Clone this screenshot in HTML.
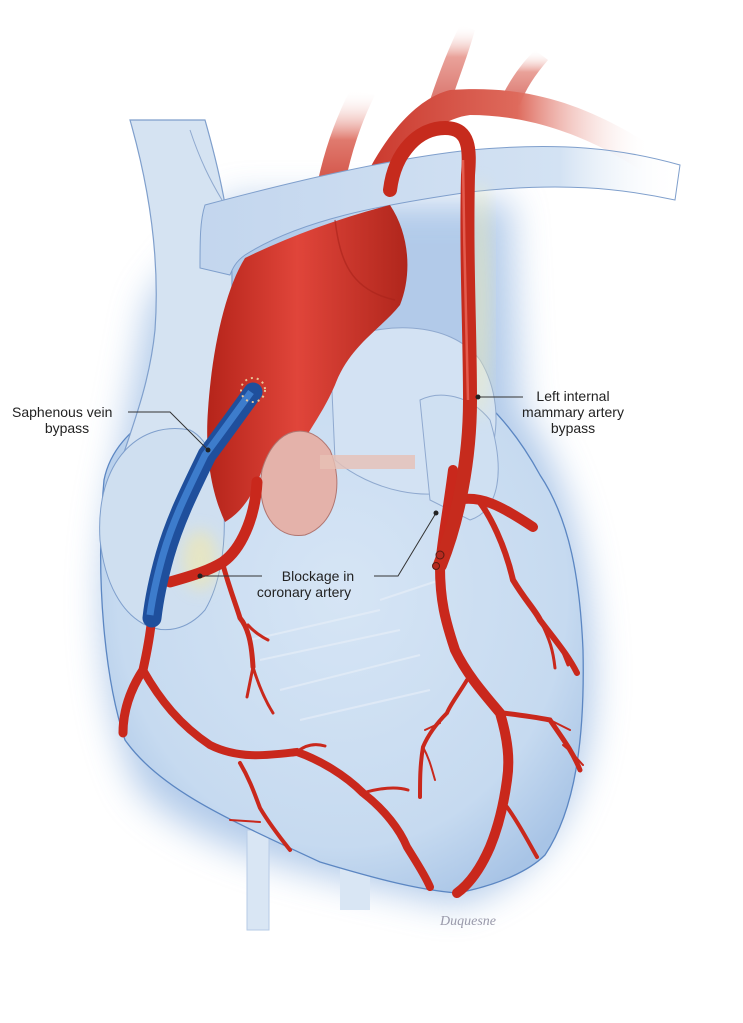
<!DOCTYPE html>
<html><head><meta charset="utf-8"><style>
html,body{margin:0;padding:0;background:#fff;}
svg{display:block}
text{font-family:"Liberation Sans",Arial,sans-serif;font-size:14px;fill:#222}
</style></head><body>
<svg width="743" height="1023" viewBox="0 0 743 1023" xmlns="http://www.w3.org/2000/svg">
<defs>
<filter id="b20" x="-30%" y="-30%" width="160%" height="160%"><feGaussianBlur stdDeviation="18"/></filter>
<filter id="b8" x="-30%" y="-30%" width="160%" height="160%"><feGaussianBlur stdDeviation="8"/></filter>
<radialGradient id="hg" cx="50%" cy="45%" r="62%"><stop offset="0" stop-color="#d6e5f5"/><stop offset="0.75" stop-color="#c6daf0"/><stop offset="1" stop-color="#a8c4e6"/></radialGradient>
<linearGradient id="ag" x1="0" x2="1"><stop offset="0" stop-color="#b5241a"/><stop offset="0.45" stop-color="#e0453a"/><stop offset="1" stop-color="#b0261c"/></linearGradient>
<linearGradient id="fadeR" x1="0" x2="1"><stop offset="0" stop-color="#c3d6ee"/><stop offset="0.75" stop-color="#d3e2f3"/><stop offset="1" stop-color="#fff" stop-opacity="0"/></linearGradient>
<linearGradient id="fadeUp" x1="0" y1="1" x2="0" y2="0"><stop offset="0" stop-color="#c8352a"/><stop offset="0.6" stop-color="#e07a6e"/><stop offset="1" stop-color="#fff" stop-opacity="0"/></linearGradient>
<linearGradient id="arch" x1="0" x2="1"><stop offset="0" stop-color="#c9352a"/><stop offset="0.55" stop-color="#de6a5c"/><stop offset="1" stop-color="#fff" stop-opacity="0"/></linearGradient>
</defs>
<path d="M120 460 C95 560 95 700 140 790 C210 860 350 880 455 905 C550 880 600 780 592 650 C588 560 565 470 520 410 L510 200 L230 200 L150 300 Z" fill="#7fa8dc" filter="url(#b20)" opacity="0.6"/>
<rect x="247" y="830" width="22" height="100" fill="#d9e6f4" stroke="#b6cbe6" stroke-width="1"/>
<rect x="340" y="850" width="30" height="60" fill="#d9e6f4"/>
<path d="M104 480 C95 580 105 680 125 740 C160 790 230 820 320 862 C380 880 420 890 457 893 C500 885 530 870 545 855 C575 810 585 740 583 650 C580 580 570 520 540 475 C510 420 470 380 420 360 C340 330 230 360 160 410 C130 430 110 450 104 480 Z" fill="url(#hg)" stroke="#5b86c2" stroke-width="1.3"/>
<g stroke="#e6eef8" stroke-width="2" opacity="0.7" fill="none">
<path d="M250 640 L380 610"/><path d="M260 660 L400 630"/><path d="M280 690 L420 655"/><path d="M300 720 L430 690"/><path d="M380 600 L440 580"/>
</g>
<path d="M130 120 C150 190 160 260 155 330 C150 380 135 420 118 470 L200 490 C222 420 232 350 232 280 C232 230 222 180 205 120 Z" fill="#d5e3f2" stroke="#7f9fcc" stroke-width="1.2"/>
<path d="M190 130 C200 160 210 180 222 200" stroke="#8fa9cf" stroke-width="1" fill="none"/>
<path d="M100 540 C95 460 140 420 190 430 C230 450 235 560 205 610 C170 650 110 630 100 540 Z" fill="#cfdff0" stroke="#7f9fcc" stroke-width="1"/>
<path d="M330 345 C380 320 450 320 480 360 C505 400 500 460 470 485 C430 505 370 490 335 460 Z" fill="#d3e2f3" stroke="#8fa9cf" stroke-width="1"/>
<path d="M420 400 C440 390 470 395 490 420 C505 470 500 510 470 520 L430 500 Z" fill="#cfe0f2" stroke="#8fa9cf" stroke-width="1"/>
<path d="M312 215 C318 170 330 130 350 90 L375 95 C355 135 345 175 340 215 Z" fill="url(#fadeUp)"/>
<path d="M430 100 C440 70 450 45 460 25 L475 30 C468 55 458 80 450 105 Z" fill="url(#fadeUp)" opacity="0.7"/>
<path d="M500 100 C510 80 520 65 535 50 L548 60 C535 75 525 90 520 105 Z" fill="url(#fadeUp)" opacity="0.7"/>
<path d="M355 200 C375 150 410 100 450 90 C520 85 580 100 650 145 L640 170 C580 130 520 115 470 115 C430 120 400 160 385 205 Z" fill="url(#arch)"/>
<path d="M205 205 C280 185 380 160 470 150 C560 142 620 148 680 165 L675 200 C620 188 560 182 470 192 C380 205 300 220 245 255 C235 262 232 270 230 275 L200 268 C200 240 200 220 205 205 Z" fill="url(#fadeR)" stroke="#7f9fcc" stroke-width="1"/>
<path d="M245 258 C290 236 340 218 390 205 C410 235 412 275 400 305 C380 330 350 345 335 385 C320 420 300 440 290 470 L262 470 C255 490 245 510 225 522 C210 490 205 450 208 410 C212 350 225 290 245 258 Z" fill="url(#ag)"/>
<path d="M335 220 C340 260 350 290 395 300" stroke="#a8231a" stroke-width="1.5" fill="none" opacity="0.6"/>
<path d="M262 470 C275 425 310 420 330 450 C345 485 335 525 305 535 C275 540 255 510 262 470 Z" fill="#e4b2aa" stroke="#b07570" stroke-width="1"/>
<rect x="320" y="455" width="95" height="14" fill="#e7c0b5" opacity="0.8"/>
<ellipse cx="200" cy="560" rx="18" ry="30" fill="#f4e9a8" opacity="0.6" filter="url(#b8)"/>
<ellipse cx="480" cy="300" rx="10" ry="120" fill="#f6f0b0" opacity="0.5" filter="url(#b8)"/>
<g stroke="#c9281c" fill="none" stroke-linecap="round">
<path d="M257 482 C255 520 240 550 223 562 C210 570 195 575 170 582" stroke-width="11"/>
<path d="M223 565 C230 590 236 605 240 618 C250 630 252 650 253 667" stroke-width="5"/>
<path d="M253 667 L247 697 M253 667 C260 690 268 705 273 713 M248 625 C255 633 262 637 268 640" stroke-width="3"/>
<path d="M152 615 C150 640 145 660 143 670 C130 690 123 710 123 733" stroke-width="9"/>
<path d="M143 670 C160 700 180 725 210 745 C240 760 270 755 297 752 C320 760 345 775 363 793 C385 810 400 830 407 847 C415 860 425 875 430 887" stroke-width="8"/>
<path d="M240 763 C250 780 255 795 260 808 C270 825 282 840 290 850" stroke-width="4"/>
<path d="M297 752 C305 745 315 743 325 746" stroke-width="3"/>
<path d="M363 793 C380 788 395 786 408 790" stroke-width="3"/>
<path d="M230 820 L260 822" stroke-width="2"/>
<path d="M453 470 C448 510 442 540 440 567 C440 600 445 620 455 650 C467 675 485 695 500 713 C508 740 510 760 507 780 C503 810 497 830 490 847 C480 870 468 885 457 893" stroke-width="10"/>
<path d="M467 680 C458 695 450 705 447 713 C435 725 428 735 423 747 C420 765 420 780 420 797" stroke-width="4"/>
<path d="M423 747 C430 760 432 770 435 780 M440 723 L425 730" stroke-width="2"/>
<path d="M503 713 C520 715 540 718 550 720 C560 735 572 750 580 770" stroke-width="5"/>
<path d="M550 720 L570 730 M563 745 C575 755 578 760 583 765" stroke-width="2"/>
<path d="M507 807 C520 825 530 845 537 857" stroke-width="4"/>
<path d="M457 500 C480 495 500 505 533 527" stroke-width="10"/>
<path d="M478 500 C490 515 505 545 513 580 C525 600 535 610 540 620 C555 640 568 655 577 673" stroke-width="6"/>
<path d="M540 620 C550 640 553 650 555 668 M560 645 L568 665" stroke-width="3"/>
</g>
<path d="M390 190 C395 150 420 128 445 128 C470 128 470 150 468 175 C466 260 470 330 470 400 C470 460 458 520 440 565" stroke="#c62b1d" stroke-width="14" fill="none" stroke-linecap="round"/>
<path d="M463 160 C464 240 466 330 468 400" stroke="#e35c4e" stroke-width="2.5" fill="none"/>
<circle cx="440" cy="555" r="4" fill="#b52a1f" stroke="#5a1a12" stroke-width="1"/>
<circle cx="436" cy="566" r="3.5" fill="#b52a1f" stroke="#5a1a12" stroke-width="1"/>
<path d="M253 392 C240 410 222 435 207 455 C190 490 175 520 165 555 C158 580 154 600 152 618" stroke="#1f4f9c" stroke-width="19" fill="none" stroke-linecap="round"/>
<path d="M251 392 C238 410 220 435 205 455 C188 490 173 520 163 555 C156 580 152 600 150 615" stroke="#3d7ccc" stroke-width="7" fill="none"/>
<circle cx="253" cy="390" r="12" fill="none" stroke="#e8c79a" stroke-width="2" stroke-dasharray="2 4"/>
<text x="440" y="925" style="font-family:'Liberation Serif',serif;font-style:italic;font-size:14px;fill:#99a">Duquesne</text>
<g stroke="#333" stroke-width="1" fill="none">
<path d="M128 412 L170 412 L208 450"/>
<path d="M478 397 L523 397"/>
<path d="M200 576 L262 576"/>
<path d="M374 576 L398 576 L436 513"/>
</g>
<circle cx="208" cy="450" r="2.5" fill="#222"/>
<circle cx="478" cy="397" r="2.5" fill="#222"/>
<circle cx="200" cy="576" r="2.5" fill="#222"/>
<circle cx="436" cy="513" r="2.5" fill="#222"/>
<text x="12" y="417">Saphenous vein</text>
<text x="67" y="433" text-anchor="middle">bypass</text>
<text x="573" y="401" text-anchor="middle">Left internal</text>
<text x="573" y="417" text-anchor="middle">mammary artery</text>
<text x="573" y="433" text-anchor="middle">bypass</text>
<text x="318" y="581" text-anchor="middle">Blockage in</text>
<text x="304" y="597" text-anchor="middle">coronary artery</text>
</svg>
</body></html>
